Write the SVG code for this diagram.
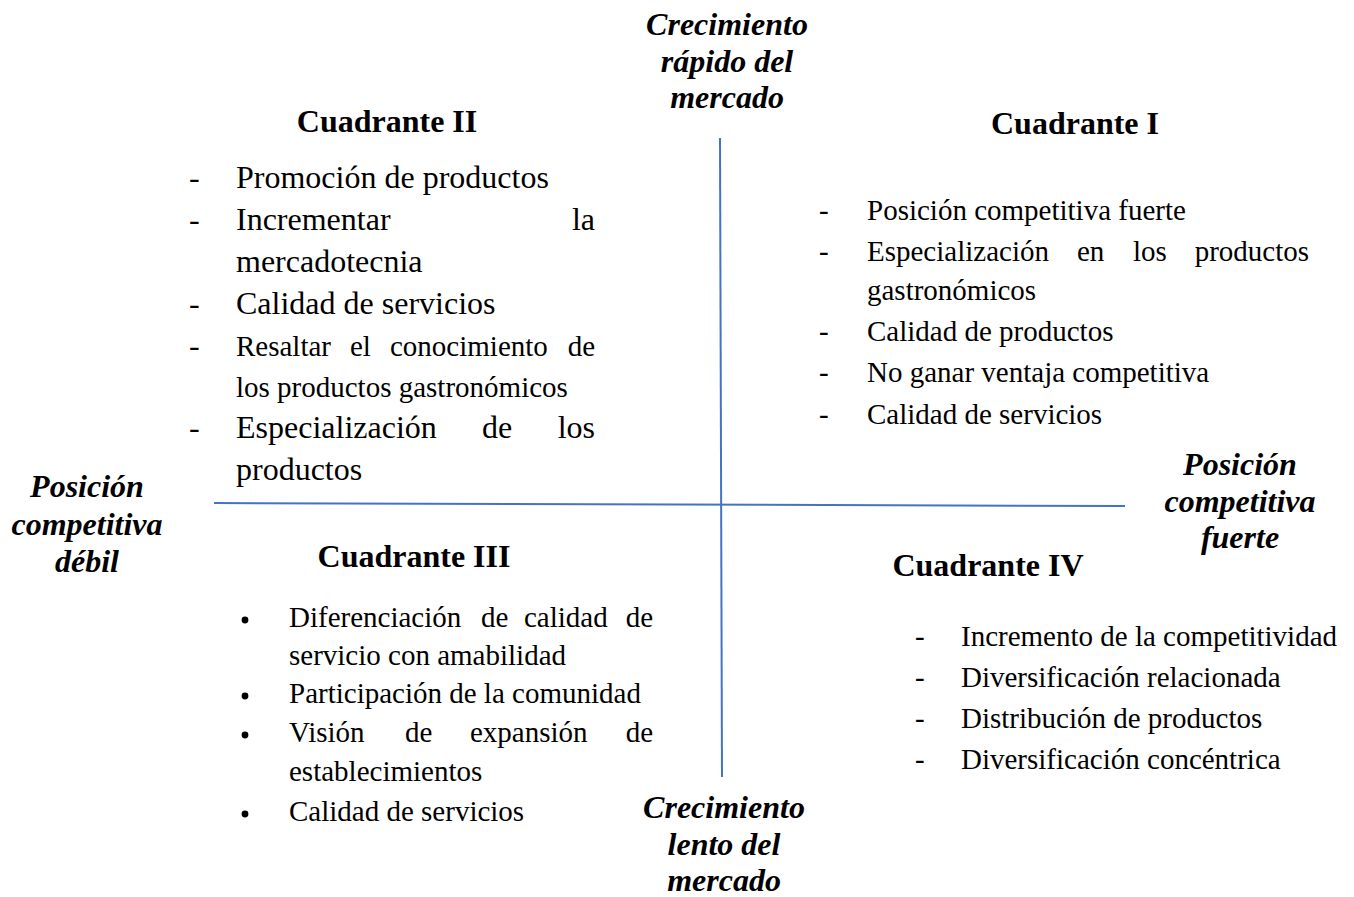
<svg xmlns="http://www.w3.org/2000/svg" width="1354" height="897" viewBox="0 0 1354 897">
<style>
text{font-family:"Liberation Serif","Times New Roman",serif;fill:#000}
.h{font-size:32px;font-weight:bold;text-anchor:middle}
.ax{font-size:32px;font-weight:bold;font-style:italic;text-anchor:middle}
.b{font-size:32px}
.s{font-size:29px}
.e{text-anchor:end}
.axis{stroke:#4472C4;stroke-width:2;fill:none}
</style>
<rect width="1354" height="897" fill="#fff"/>
<g id="connectors">
<line class="axis" x1="720" y1="138" x2="722" y2="777"/>
<line class="axis" x1="214" y1="503" x2="1125" y2="506"/>
</g>
<g id="axis-top">
<text class="ax" x="727" y="35">Crecimiento</text>
<text class="ax" x="727" y="72">rápido del</text>
<text class="ax" x="727" y="108">mercado</text>
</g>
<g id="axis-bottom">
<text class="ax" x="724" y="818">Crecimiento</text>
<text class="ax" x="724" y="855">lento del</text>
<text class="ax" x="724" y="891">mercado</text>
</g>
<g id="axis-left">
<text class="ax" x="87" y="497">Posición</text>
<text class="ax" x="87" y="535">competitiva</text>
<text class="ax" x="87" y="572">débil</text>
</g>
<g id="axis-right">
<text class="ax" x="1240" y="475">Posición</text>
<text class="ax" x="1240" y="512">competitiva</text>
<text class="ax" x="1240" y="548">fuerte</text>
</g>
<g id="cuadrante-2">
<text class="h" x="387" y="132">Cuadrante II</text>
<text class="b" x="189" y="188">-</text><text class="b" x="236" y="188">Promoción de productos</text>
<text class="b" x="189" y="230">-</text><text class="b" x="236" y="230">Incrementar</text><text class="b e" x="595" y="230">la</text>
<text class="b" x="236" y="272">mercadotecnia</text>
<text class="b" x="189" y="314">-</text><text class="b" x="236" y="314">Calidad de servicios</text>
<text class="b" x="189" y="356">-</text><text class="s" x="236" y="356">Resaltar</text><text class="s" x="350" y="356">el</text><text class="s" x="390" y="356">conocimiento</text><text class="s e" x="595" y="356">de</text>
<text class="s" x="236" y="397">los productos gastronómicos</text>
<text class="b" x="189" y="438">-</text><text class="b" x="236" y="438">Especialización</text><text class="b" x="482" y="438">de</text><text class="b e" x="595" y="438">los</text>
<text class="b" x="236" y="480">productos</text>
</g>
<g id="cuadrante-1">
<text class="h" x="1075" y="134">Cuadrante I</text>
<text class="s" x="819" y="220">-</text><text class="s" x="867" y="220">Posición competitiva fuerte</text>
<text class="s" x="819" y="261">-</text><text class="s" x="867" y="261">Especialización</text><text class="s" x="1077" y="261">en</text><text class="s" x="1133" y="261">los</text><text class="s e" x="1309" y="261">productos</text>
<text class="s" x="867" y="300">gastronómicos</text>
<text class="s" x="819" y="341">-</text><text class="s" x="867" y="341">Calidad de productos</text>
<text class="s" x="819" y="382">-</text><text class="s" x="867" y="382">No ganar ventaja competitiva</text>
<text class="s" x="819" y="424">-</text><text class="s" x="867" y="424">Calidad de servicios</text>
</g>
<g id="cuadrante-3">
<text class="h" x="414" y="567">Cuadrante III</text>
<circle cx="245" cy="620" r="3.4"/><text class="s" x="289" y="627">Diferenciación</text><text class="s" x="481" y="627">de</text><text class="s" x="524" y="627">calidad</text><text class="s e" x="653" y="627">de</text>
<text class="s" x="289" y="665">servicio con amabilidad</text>
<circle cx="245" cy="696" r="3.4"/><text class="s" x="289" y="703">Participación de la comunidad</text>
<circle cx="245" cy="735" r="3.4"/><text class="s" x="289" y="742">Visión</text><text class="s" x="405" y="742">de</text><text class="s" x="470" y="742">expansión</text><text class="s e" x="653" y="742">de</text>
<text class="s" x="289" y="781">establecimientos</text>
<circle cx="245" cy="814" r="3.4"/><text class="s" x="289" y="821">Calidad de servicios</text>
</g>
<g id="cuadrante-4">
<text class="h" x="988" y="576">Cuadrante IV</text>
<text class="s" x="915" y="646">-</text><text class="s" x="961" y="646">Incremento de la competitividad</text>
<text class="s" x="915" y="687">-</text><text class="s" x="961" y="687">Diversificación relacionada</text>
<text class="s" x="915" y="728">-</text><text class="s" x="961" y="728">Distribución de productos</text>
<text class="s" x="915" y="769">-</text><text class="s" x="961" y="769">Diversificación concéntrica</text>
</g>
</svg>
